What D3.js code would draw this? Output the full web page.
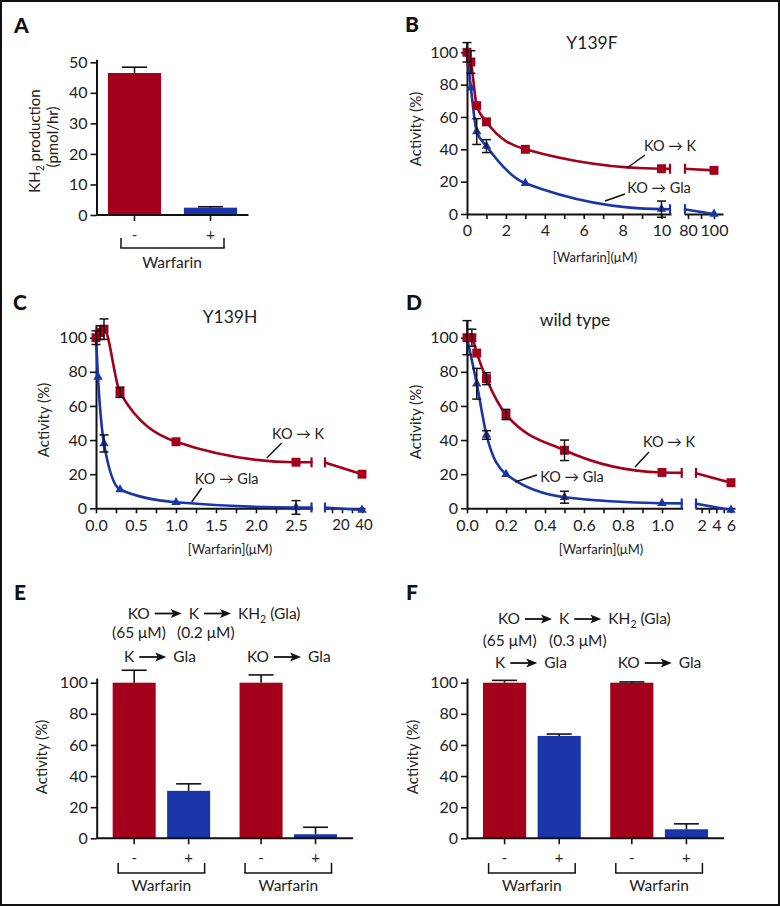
<!DOCTYPE html>
<html>
<head>
<meta charset="utf-8">
<style>
  body { margin: 0; background: #fff; }
  svg { display: block; font-family: Lato, "DejaVu Sans", sans-serif; }
  .axis path, .axis line { stroke: #111; }
  .axis path { stroke-width: 2; }
  .axis line { stroke-width: 1.6; }
  .axis text { font-size: 16px; fill: #222; font-family: Lato, "DejaVu Sans", sans-serif; }
</style>
<script src="https://d3js.org/d3.v7.min.js"></script>
</head>
<body>
<svg id="fig" width="780" height="906"></svg>
<script>
// ---- data ----
// A: KH2 production
var aCats = ["-", "+"];
var aValues = [46.5, 2.4];
var aErrors = [1.9, 0.3];

// B: Y139F
var bRedX = [0, 0.2, 0.5, 1, 3, 10, 100];
var bRedY = [100, 94, 67, 57, 40, 28, 27];
var bRedErr = [6, 7, 0, 0, 0, 0, 0];
var bBlueX = [0, 0.2, 0.5, 1, 3, 10, 100];
var bBlueY = [100, 78, 51, 42, 19, 3, 0];
var bBlueErr = [0, 0, 8, 4, 0, 5, 0];

// C: Y139H
var cRedX = [0, 0.05, 0.1, 0.3, 1, 2.5, 40];
var cRedY = [100, 103, 105, 68, 39, 27, 20];
var cRedErr = [4, 4, 6, 3, 0, 0, 0];
var cBlueX = [0, 0.025, 0.1, 0.3, 1, 2.5, 40];
var cBlueY = [100, 77, 38, 11, 3.5, 0.5, -1];
var cBlueErr = [0, 0, 5, 0, 0, 4, 0];

// D: wild type
var dRedX = [0, 0.025, 0.05, 0.1, 0.2, 0.5, 1, 6];
var dRedY = [100, 100, 91, 76, 55, 34, 21, 15];
var dRedErr = [10, 5, 0, 3.5, 3, 6, 0, 0];
var dBlueX = [0, 0.05, 0.1, 0.2, 0.5, 1, 6];
var dBlueY = [100, 73, 43, 20, 6.5, 3, -1];
var dBlueErr = [0, 9, 2.5, 0, 3.5, 0, 0];

// E, F: grouped bars
var groups = ["K → Gla", "KO → Gla"];
var warf = ["-", "+"];
var eRed = [100, 100], eRedErr = [8, 5];
var eBlue = [30.5, 2.6], eBlueErr = [4.5, 4.5];
var fRed = [100, 100], fRedErr = [1.5, 0.5];
var fBlue = [65.8, 5.8], fBlueErr = [1.2, 3.5];

var pctTicks = [0, 20, 40, 60, 80, 100];
var aTicks = [0, 10, 20, 30, 40, 50];

// ---- setup ----
var RED = "#a3001c", BLUE = "#1a35a8", INK = "#111";
var svg = d3.select("#fig");

svg.append("rect").attr("x", 1).attr("y", 1).attr("width", 778).attr("height", 904)
  .attr("fill", "none").attr("stroke", INK).attr("stroke-width", 2);

function label(x, y, s, size, anchor) {
  return svg.append("text").attr("x", x).attr("y", y).attr("font-size", size)
    .attr("text-anchor", anchor || "middle").attr("fill", "#222").text(s);
}
function vlabel(x, y, s, size) {
  return svg.append("text").attr("transform", "translate(" + x + "," + y + ") rotate(-90)")
    .attr("text-anchor", "middle").attr("dy", "0.35em").attr("font-size", size).attr("fill", "#222").text(s);
}
function letter(x, y, s) {
  svg.append("text").attr("x", x).attr("y", y).attr("font-size", 21).attr("font-weight", 900)
    .attr("fill", INK).text(s);
}
function seg(x1, y1, x2, y2, w, c) {
  svg.append("line").attr("x1", x1).attr("y1", y1).attr("x2", x2).attr("y2", y2)
    .attr("stroke", c || INK).attr("stroke-width", w || 1.5);
}

letter(14, 33, "A"); letter(405, 32, "B");
letter(13, 310, "C"); letter(406, 310, "D");
letter(14, 600, "E"); letter(406, 600, "F");

// ---- bar helpers ----
function errBar(x, yTop, yBar, w) {
  seg(x, yBar, x, yTop, 1.6);
  seg(x - w / 2, yTop, x + w / 2, yTop, 1.6);
}
function bracket(xl, xr, yTop, yBot, tx, ty) {
  seg(xl, yTop, xl, yBot); seg(xr, yTop, xr, yBot); seg(xl - 0.7, yBot, xr + 0.7, yBot);
  label(tx, ty, "Warfarin", 15.5);
}

// ---- Panel A ----
(function () {
  var x = d3.scaleBand().domain(aCats).range([96.5, 248.5]).paddingInner(0.3).paddingOuter(0.15);
  var y = d3.scaleLinear().domain([0, 51]).range([215, 215 - 51 * 3.054]);
  var g = svg.append("g");
  g.selectAll("rect").data(aValues).enter().append("rect")
    .attr("x", function (d, i) { return x(aCats[i]); })
    .attr("y", function (d) { return y(d); })
    .attr("width", x.bandwidth())
    .attr("height", function (d) { return y(0) - y(d); })
    .attr("fill", function (d, i) { return i === 0 ? RED : BLUE; });
  aValues.forEach(function (v, i) {
    errBar(x(aCats[i]) + x.bandwidth() / 2, y(v + aErrors[i]), y(v), 25);
  });
  svg.append("g").attr("class", "axis").attr("transform", "translate(96.5,0)")
    .call(d3.axisLeft(y).tickValues(aTicks).tickSize(6).tickSizeOuter(0).tickPadding(3));
  svg.append("g").attr("class", "axis").attr("transform", "translate(0,215)")
    .call(d3.axisBottom(x).tickSize(6).tickSizeOuter(0).tickFormat(""))
    .select(".domain").attr("d", "M96.5,0H248.5");
  aCats.forEach(function (c) { label(x(c) + x.bandwidth() / 2, 240, c, 15); });
  bracket(121, 224, 238, 248, 172, 268);
  svg.append("text").attr("transform", "translate(35,141) rotate(-90)")
    .attr("text-anchor", "middle").attr("dy", "0.35em").attr("font-size", 15).attr("fill", "#222")
    .call(function (t) {
      t.append("tspan").text("KH");
      t.append("tspan").attr("dy", 4).attr("font-size", 10.5).text("2");
      t.append("tspan").attr("dy", -4).text(" production");
    });
  vlabel(53, 137, "(pmol/hr)", 15);
})();

// ---- curve panels ----
function yAtX(node, x) {
  var L = node.getTotalLength(), lo = 0, hi = L;
  for (var i = 0; i < 40; i++) {
    var mid = (lo + hi) / 2;
    if (node.getPointAtLength(mid).x < x) lo = mid; else hi = mid;
  }
  return node.getPointAtLength(lo).y;
}

function curvePanel(o) {
  var y = d3.scaleLinear().domain([0, o.yTop]).range([o.y0, o.y0 - (o.y0 - o.y100) * o.yTop / 100]);
  var x1 = d3.scaleLinear().domain(o.d1).range(o.r1);
  var x2 = d3.scaleLinear().domain(o.d2).range(o.r2);
  var s1 = x1.copy().domain([o.d1[0], x1.invert(o.brk1)]).range([o.r1[0], o.brk1]);
  var s2 = x2.copy().domain([x2.invert(o.brk2), x2.invert(o.axisEnd)]).range([o.brk2, o.axisEnd]);
  var id = o.id;
  svg.append("clipPath").attr("id", id + "c1").append("rect")
    .attr("x", o.r1[0] - 20).attr("y", 0).attr("width", o.brk1 - o.r1[0] + 20).attr("height", 906);

  // axes
  svg.append("g").attr("class", "axis").attr("transform", "translate(" + o.r1[0] + ",0)")
    .call(d3.axisLeft(y).tickValues(pctTicks).tickSize(6).tickSizeOuter(0).tickPadding(3));
  svg.append("g").attr("class", "axis").attr("transform", "translate(0," + o.y0 + ")")
    .call(d3.axisBottom(s1).tickValues(o.major1).tickFormat(o.fmt).tickSize(5).tickSizeOuter(0).tickPadding(6));
  svg.append("g").attr("class", "axis").attr("transform", "translate(0," + o.y0 + ")")
    .call(d3.axisBottom(s1).tickValues(o.minor1).tickFormat("").tickSize(5).tickSizeOuter(0))
    .select(".domain").remove();
  var ax2 = svg.append("g").attr("class", "axis").attr("transform", "translate(0," + o.y0 + ")")
    .call(d3.axisBottom(s2).tickValues(o.major2).tickFormat(d3.format("d")).tickSize(5).tickSizeOuter(0).tickPadding(6));
  if (o.size2) {
    ax2.selectAll(".tick text").style("font-size", o.size2 + "px")
      .attr("dx", function (d, i) { return o.shift2[i]; });
  }
  svg.append("g").attr("class", "axis").attr("transform", "translate(0," + o.y0 + ")")
    .call(d3.axisBottom(s2).tickValues(o.minor2).tickFormat("").tickSize(5).tickSizeOuter(0))
    .select(".domain").remove();

  var series = [
    { X: o.blueX, Y: o.blueY, E: o.blueErr, c: BLUE, sym: d3.symbolTriangle, size: 38 },
    { X: o.redX, Y: o.redY, E: o.redErr, c: RED, sym: d3.symbolSquare, size: 80 }
  ];
  function px(v) { return x1(v) <= o.brk1 ? x1(v) : x2(v); }

  series.forEach(function (s) {
    var pts = s.X.map(function (v, i) { return [x1(v), y(s.Y[i])]; });
    var p1 = svg.append("path").datum(pts)
      .attr("d", d3.line().curve(d3.curveMonotoneX))
      .attr("clip-path", "url(#" + id + "c1)")
      .attr("fill", "none").attr("stroke", s.c).attr("stroke-width", 2.6);
    var yEnd = yAtX(p1.node(), o.brk1);
    var pts2 = [[o.brk2, yEnd]];
    s.X.forEach(function (v, i) { if (x2(v) > o.brk2 && x1(v) > o.brk1) pts2.push([x2(v), y(s.Y[i])]); });
    svg.append("path").datum(pts2)
      .attr("d", d3.line().curve(d3.curveMonotoneX))
      .attr("fill", "none").attr("stroke", s.c).attr("stroke-width", 2.6);
    seg(o.brk1 - 1, yEnd - 5, o.brk1 - 1, yEnd + 5, 2.2, s.c);
    seg(o.brk2 + 1, yEnd - 5, o.brk2 + 1, yEnd + 5, 2.2, s.c);
  });
  series.forEach(function (s) {
    svg.append("g").selectAll("path").data(s.X).enter().append("path")
      .attr("transform", function (v, i) { return "translate(" + px(v) + "," + y(s.Y[i]) + ")"; })
      .attr("d", d3.symbol().type(s.sym).size(s.size))
      .attr("fill", s.c);
  });
  series.forEach(function (s) {
    s.X.forEach(function (v, i) {
      if (!s.E[i]) return;
      var xx = px(v), t = y(s.Y[i] + s.E[i]), b = y(s.Y[i] - s.E[i]);
      seg(xx, t, xx, b, 1.5);
      seg(xx - 4.5, t, xx + 4.5, t, 1.5);
      seg(xx - 4.5, b, xx + 4.5, b, 1.5);
    });
  });

  label(o.title[0], o.title[1], o.title[2], 17.5);
  vlabel(o.ylab[0], o.ylab[1], "Activity (%)", 15);
  label(o.xlab[0], o.xlab[1], "[Warfarin](μM)", 13);
  label(o.redLab[0], o.redLab[1], "KO → K", 14.5);
  seg(o.redLab[2], o.redLab[3], o.redLab[4], o.redLab[5]);
  label(o.blueLab[0], o.blueLab[1], "KO → Gla", 14.5);
  seg(o.blueLab[2], o.blueLab[3], o.blueLab[4], o.blueLab[5]);
}

curvePanel({
  id: "b", y0: 214, y100: 52.3, yTop: 106,
  d1: [0, 10], r1: [467, 661.5], brk1: 671,
  d2: [80, 100], r2: [688, 714], brk2: 684, axisEnd: 723,
  major1: [0, 2, 4, 6, 8, 10], minor1: [1, 3, 5, 7, 9], major2: [80, 100], minor2: [90],
  fmt: d3.format("d"),
  redX: bRedX, redY: bRedY, redErr: bRedErr, blueX: bBlueX, blueY: bBlueY, blueErr: bBlueErr,
  title: [592, 49, "Y139F"], ylab: [416, 129], xlab: [595, 262],
  redLab: [670, 151, 645, 155, 627, 168], blueLab: [659, 193, 625, 194, 605, 201]
});

curvePanel({
  id: "c", y0: 508.3, y100: 337.7, yTop: 107,
  d1: [0, 2.5], r1: [96, 296], brk1: 312.5,
  d2: [2, 40], r2: [324, 362], brk2: 324, axisEnd: 365,
  major1: [0, 0.5, 1, 1.5, 2, 2.5], minor1: [0.25, 0.75, 1.25, 1.75, 2.25], major2: [20, 40], minor2: [10, 30],
  size2: 15, shift2: [-1.5, 1.5],
  fmt: d3.format(".1f"),
  redX: cRedX, redY: cRedY, redErr: cRedErr, blueX: cBlueX, blueY: cBlueY, blueErr: cBlueErr,
  title: [230, 323, "Y139H"], ylab: [44, 420], xlab: [230, 554],
  redLab: [298, 439, 281.7, 443, 266.7, 458], blueLab: [226.7, 484, 201.7, 488, 191.7, 502]
});

curvePanel({
  id: "d", y0: 508.3, y100: 337.7, yTop: 110,
  d1: [0, 1], r1: [467, 662], brk1: 682.7,
  d2: [1.1, 6], r2: [695, 731], brk2: 695, axisEnd: 735,
  major1: [0, 0.2, 0.4, 0.6, 0.8, 1], minor1: [0.1, 0.3, 0.5, 0.7, 0.9], major2: [2, 4, 6], minor2: [3, 5],
  fmt: d3.format(".1f"),
  redX: dRedX, redY: dRedY, redErr: dRedErr, blueX: dBlueX, blueY: dBlueY, blueErr: dBlueErr,
  title: [575, 326, "wild type"], ylab: [416, 422], xlab: [601, 554],
  redLab: [669, 447, 649, 452, 635, 467], blueLab: [572, 482, 537, 475, 515, 482]
});

// ---- E, F ----
function arrow(x, y, len) {
  seg(x, y, x + len - 6, y, 1.8);
  svg.append("path").attr("d", "M" + (x + len) + "," + y + "l-11,-4.5l2.5,4.5l-2.5,4.5z").attr("fill", INK);
}
function scheme(x, y, parts) {
  var cx = x;
  parts.forEach(function (p) {
    if (p === null) { arrow(cx, y - 5, 27); cx += 27 + 7; return; }
    var t = svg.append("text").attr("x", cx).attr("y", y).attr("font-size", 15.5).attr("fill", "#222");
    if (p === "KH2") {
      t.append("tspan").text("KH");
      t.append("tspan").attr("dy", 4).attr("font-size", 10.5).text("2");
      t.append("tspan").attr("dy", -4).text(" (Gla)");
    } else t.text(p);
    cx += t.node().getComputedTextLength() + 5;
  });
}

function groupPanel(o) {
  var y = d3.scaleLinear().domain([0, 103]).range([838.3, 838.3 - 103 * 1.556]);
  var gx = d3.scaleBand().domain(groups).range([o.x0, o.x1]).paddingInner(0).paddingOuter(0.01);
  var ix = d3.scaleBand().domain(warf).range([0, gx.bandwidth()]).paddingInner(0.21).paddingOuter(0.27);
  var centers = [];
  groups.forEach(function (gname, gi) {
    [[o.red, o.redErr, RED], [o.blue, o.blueErr, BLUE]].forEach(function (s, si) {
      var bx = gx(gname) + ix(warf[si]);
      var v = s[0][gi];
      svg.append("rect").attr("x", bx).attr("y", y(v)).attr("width", ix.bandwidth())
        .attr("height", y(0) - y(v)).attr("fill", s[2]);
      errBar(bx + ix.bandwidth() / 2, y(v + s[1][gi]), y(v), 25);
      centers.push(bx + ix.bandwidth() / 2);
      label(bx + ix.bandwidth() / 2, 863, warf[si], 15);
    });
    var c0 = centers[gi * 2], c1 = centers[gi * 2 + 1];
    bracket(c0 - 16, c1 + 16, 863, 873, (c0 + c1) / 2, 891);
  });
  svg.append("g").attr("class", "axis").attr("transform", "translate(" + o.x0 + ",0)")
    .call(d3.axisLeft(y).tickValues(pctTicks).tickSize(6).tickSizeOuter(0).tickPadding(3));
  svg.append("path").attr("d", "M" + o.x0 + "," + y(0) + "H" + o.x1).attr("stroke", INK).attr("stroke-width", 2);
  centers.forEach(function (c) { seg(c, y(0), c, y(0) + 6, 1.6); });
  vlabel(o.ylab, 757, "Activity (%)", 15);
}

groupPanel({ x0: 96.7, x1: 353, red: eRed, redErr: eRedErr, blue: eBlue, blueErr: eBlueErr, ylab: 42 });
groupPanel({ x0: 467, x1: 724, red: fRed, redErr: fRedErr, blue: fBlue, blueErr: fBlueErr, ylab: 413 });

scheme(127.7, 618.5, ["KO", null, "K", null, "KH2"]);
label(112, 638, "(65 μM)", 15.5, "start");
label(177, 638, "(0.2 μM)", 15.5, "start");
scheme(124, 662, ["K", null, "Gla"]);
scheme(247, 662, ["KO", null, "Gla"]);

scheme(498, 624, ["KO", null, "K", null, "KH2"]);
label(482.7, 646, "(65 μM)", 15.5, "start");
label(549, 646, "(0.3 μM)", 15.5, "start");
scheme(495, 668, ["K", null, "Gla"]);
scheme(617.7, 668, ["KO", null, "Gla"]);
</script>
</body>
</html>
